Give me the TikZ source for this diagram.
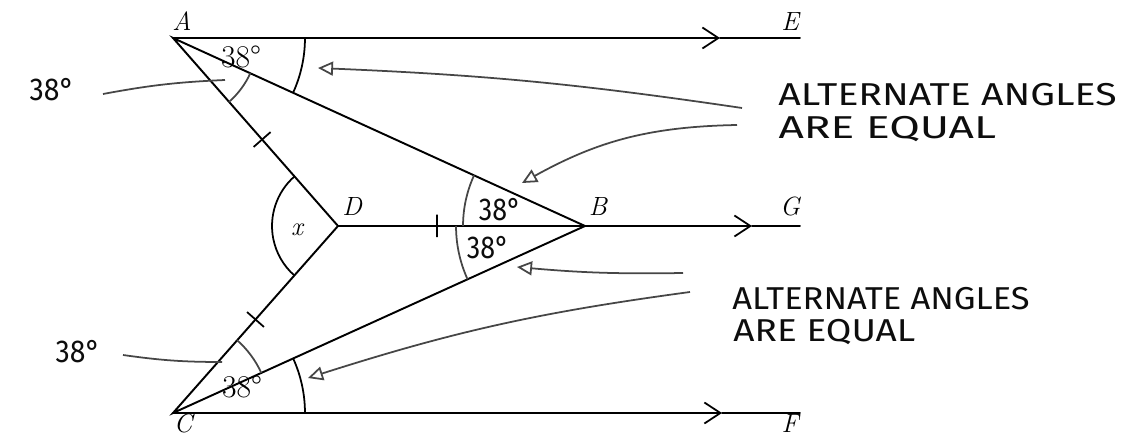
\documentclass[tikz,border=0pt]{standalone}
\usepackage{fontspec}
\newfontfamily\handfont{Fira Sans}
\usetikzlibrary{arrows.meta,angles}
\tikzset{
  geoline/.style={line width=1.1pt, line cap=round},
  midarrow/.style={geoline, -{Straight Barb[length=3.2mm, width=4.2mm, line width=1pt]}},
  ptlabel/.style={font=\fontsize{15}{17}\selectfont\itshape, inner sep=1pt},
  anglabel/.style={font=\fontsize{18}{20}\selectfont, inner sep=1pt},
  tickmark/.style={draw, line width=1pt, inner sep=0pt, minimum width=0pt, minimum height=0.45cm, sloped},
  handtext/.style={font=\handfont\fontsize{18}{20}\selectfont, text=gray!10!black, anchor=west, inner sep=0pt},
  handline/.style={draw=gray!55!black, line width=1pt},
  handarrow/.style={handline, -{Triangle[open, length=3mm, width=2.8mm]}}
}
\begin{document}
\begin{tikzpicture}[x=0.02cm, y=0.02cm]
  \useasboundingbox (0,0) rectangle (1129,436);
  \coordinate (A) at (173,398);
  \coordinate (B) at (585,210);
  \coordinate (C) at (173,23);
  \coordinate (D) at (338,210);
  \coordinate (E) at (800,398);
  \coordinate (G) at (800,210);
  \coordinate (F) at (800,23);
  \coordinate (ae) at (720,398);
  \coordinate (bg) at (752,210);
  \coordinate (cf) at (722,23);

  \draw[midarrow] (A) -- (ae);
  \draw[geoline] (ae) -- (E);
  \draw[midarrow] (B) -- (bg);
  \draw[geoline] (bg) -- (G);
  \draw[midarrow] (C) -- (cf);
  \draw[geoline] (cf) -- (F);
  \draw[geoline] (A) -- (B) -- (C) -- (D) -- cycle;
  \draw[geoline] (D) -- (B);

  \path (A) -- (D) node[tickmark, pos=0.54] (tA) {};
  \path (D) -- (C) node[tickmark, pos=0.5] (tC) {};
  \path (D) -- (B) node[tickmark, pos=0.4] (tB) {};

  \pic[draw, line width=1pt, angle radius=2.64cm] {angle=B--A--E};
  \pic[draw, line width=1pt, angle radius=2.64cm] {angle=F--C--B};
  \pic[draw, line width=1pt, angle radius=1.32cm] {angle=A--D--C};
  \pic[handline, angle radius=1.7cm] {angle=D--A--B};
  \pic[handline, angle radius=1.94cm] {angle=B--C--D};
  \pic[handline, angle radius=2.44cm] {angle=A--B--D};
  \pic[handline, angle radius=2.58cm] {angle=D--B--C};

  \node[ptlabel, anchor=base] (lA) at (182,405) {A};
  \node[ptlabel, anchor=base] (lE) at (790,405) {E};
  \node[ptlabel, anchor=base] (lD) at (352,220) {D};
  \node[ptlabel, anchor=base] (lB) at (598,220) {B};
  \node[ptlabel, anchor=base] (lG) at (790,220) {G};
  \node[ptlabel, anchor=base] (lC) at (183,3) {C};
  \node[ptlabel, anchor=base] (lF) at (790,3) {F};
  \node[ptlabel, anchor=base] (lx) at (297,200) {x};
  \node[anglabel, anchor=base] (aA) at (241,368) {38°};
  \node[anglabel, anchor=base] (aC) at (242,38) {38°};

  \node[handtext, anchor=center, xscale=0.9] (hA) at (52,346) {38°};
  \node[handtext, anchor=center, xscale=0.9] (hC) at (78,84) {38°};
  \node[handtext, anchor=center, xscale=0.85] (hB1) at (500,226) {38°};
  \node[handtext, anchor=center, xscale=0.85] (hB2) at (488,188) {38°};
  \coordinate (hAa) at (103,342);
  \coordinate (hAb) at (225,356);
  \coordinate (hCa) at (123,81);
  \coordinate (hCb) at (222,74);
  \draw[handline] (hAa) to[bend left=4] (hAb);
  \draw[handline] (hCa) to[bend right=4] (hCb);

  \node[handtext, xscale=1.24] (t1) at (778,341) {ALTERNATE ANGLES};
  \node[handtext, xscale=1.4] (t2) at (778,307) {ARE EQUAL};
  \node[handtext, xscale=1.09] (t3) at (732,137) {ALTERNATE ANGLES};
  \node[handtext, xscale=1.17] (t4) at (733,104) {ARE EQUAL};

  \coordinate (s1) at (742,328);
  \coordinate (e1) at (318,368);
  \coordinate (s2) at (737,311);
  \coordinate (e2) at (522,253);
  \coordinate (s3) at (683,163);
  \coordinate (e3) at (517,169);
  \coordinate (s4) at (690,144);
  \coordinate (e4) at (308,58);
  \draw[handarrow] (s1) to[bend right=3] (e1);
  \draw[handarrow] (s2) to[bend right=14] (e2);
  \draw[handarrow] (s3) to[bend left=3] (e3);
  \draw[handarrow] (s4) to[bend right=5] (e4);
\end{tikzpicture}
\end{document}
